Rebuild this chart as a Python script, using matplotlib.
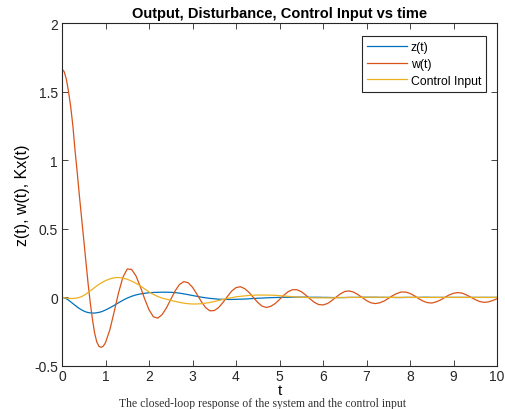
import matplotlib
matplotlib.use("Agg")
import matplotlib.pyplot as plt

plt.rcParams["font.family"] = ["Liberation Sans", "DejaVu Sans"]

# sample times (finer at the start where w(t) falls fast)
t = [0.0, 0.05, 0.1, 0.15, 0.2, 0.25, 0.3, 0.35, 0.4, 0.45, 0.5, 0.55, 0.6, 0.65,
     0.7, 0.75, 0.8, 0.85, 0.9, 0.95,
     1.0, 1.1, 1.2, 1.3, 1.4, 1.5, 1.6, 1.7, 1.8, 1.9,
     2.0, 2.1, 2.2, 2.3, 2.4, 2.5, 2.6, 2.7, 2.8, 2.9,
     3.0, 3.1, 3.2, 3.3, 3.4, 3.5, 3.6, 3.7, 3.8, 3.9,
     4.0, 4.1, 4.2, 4.3, 4.4, 4.5, 4.6, 4.7, 4.8, 4.9,
     5.0, 5.1, 5.2, 5.3, 5.4, 5.5, 5.6, 5.7, 5.8, 5.9,
     6.0, 6.1, 6.2, 6.3, 6.4, 6.5, 6.6, 6.7, 6.8, 6.9,
     7.0, 7.1, 7.2, 7.3, 7.4, 7.5, 7.6, 7.7, 7.8, 7.9,
     8.0, 8.1, 8.2, 8.3, 8.4, 8.5, 8.6, 8.7, 8.8, 8.9,
     9.0, 9.1, 9.2, 9.3, 9.4, 9.5, 9.6, 9.7, 9.8, 9.9, 10.0]

z = [0.0, -0.003, -0.010, -0.020, -0.032, -0.045, -0.058, -0.070, -0.081, -0.091,
     -0.099, -0.106, -0.110, -0.113, -0.114, -0.114, -0.112, -0.109, -0.105, -0.099,
     -0.092, -0.076, -0.058, -0.039, -0.021, -0.005, 0.008, 0.018, 0.025, 0.030,
     0.034, 0.036, 0.037, 0.038, 0.038, 0.037, 0.035, 0.031, 0.026, 0.020,
     0.014, 0.008, 0.002, -0.003, -0.007, -0.010, -0.013, -0.014, -0.015, -0.015,
     -0.014, -0.013, -0.012, -0.010, -0.008, -0.006, -0.005, -0.003, -0.002, -0.001,
     0.000, 0.001, 0.001, 0.002, 0.002, 0.002, 0.002, 0.001, 0.001, 0.001,
     0.000, 0.000, -0.001, -0.001, -0.001, -0.001, 0.000, 0.000, 0.000, 0.001,
     0.001, 0.001, 0.001, 0.000, 0.000, 0.000, 0.000, -0.001, -0.001, 0.000,
     0.000, 0.000, 0.000, 0.001, 0.001, 0.000, 0.000, 0.000, 0.000, 0.000,
     0.000, 0.000, 0.000, 0.000, 0.000, 0.000, 0.000, 0.000, 0.000, 0.000, 0.000]

w = [1.665, 1.645, 1.59, 1.50, 1.39, 1.25, 1.07, 0.91, 0.74, 0.58,
     0.42, 0.26, 0.10, -0.04, -0.16, -0.26, -0.325, -0.357, -0.364, -0.355,
     -0.330, -0.236, -0.104, 0.034, 0.147, 0.207, 0.204, 0.157, 0.079, -0.011,
     -0.090, -0.141, -0.151, -0.126, -0.077, -0.015, 0.047, 0.094, 0.115, 0.107,
     0.074, 0.024, -0.029, -0.074, -0.098, -0.096, -0.074, -0.037, 0.006, 0.046,
     0.071, 0.078, 0.064, 0.036, -0.001, -0.037, -0.064, -0.073, -0.065, -0.045,
     -0.015, 0.016, 0.042, 0.056, 0.056, 0.042, 0.018, -0.010, -0.036, -0.052,
     -0.055, -0.045, -0.024, 0.002, 0.026, 0.043, 0.047, 0.039, 0.021, -0.001,
     -0.023, -0.039, -0.045, -0.040, -0.027, -0.008, 0.013, 0.029, 0.039, 0.039,
     0.029, 0.012, -0.009, -0.027, -0.038, -0.041, -0.033, -0.019, 0.000, 0.018,
     0.030, 0.035, 0.031, 0.018, 0.001, -0.016, -0.030, -0.036, -0.033, -0.023, -0.010]

u = [0.0, -0.002, -0.005, -0.007, -0.008, -0.008, -0.006, -0.004, 0.000, 0.006,
     0.014, 0.024, 0.036, 0.048, 0.060, 0.072, 0.084, 0.095, 0.105, 0.114,
     0.122, 0.135, 0.143, 0.145, 0.141, 0.132, 0.119, 0.103, 0.084, 0.062,
     0.040, 0.022, 0.007, -0.005, -0.013, -0.021, -0.029, -0.036, -0.042, -0.046,
     -0.048, -0.048, -0.046, -0.042, -0.037, -0.030, -0.023, -0.015, -0.008, -0.002,
     0.004, 0.008, 0.011, 0.014, 0.016, 0.017, 0.017, 0.017, 0.016, 0.015,
     0.013, 0.010, 0.008, 0.005, 0.003, 0.001, -0.001, -0.002, -0.003, -0.003,
     -0.003, -0.003, -0.003, -0.002, -0.002, -0.001, 0.000, 0.000, 0.000, 0.000,
     0.001, 0.001, 0.001, 0.001, 0.001, 0.000, 0.000, 0.000, 0.000, 0.000,
     0.000, 0.000, 0.000, 0.000, 0.000, 0.000, 0.000, 0.000, 0.000, 0.000,
     0.000, 0.000, 0.000, 0.000, 0.000, 0.000, 0.000, 0.000, 0.000, 0.000, 0.000]

labels = ["z(t)", "w(t)", "Control Input"]
colors = ["#0072BD", "#D95319", "#EDB120"]

fig = plt.figure(figsize=(5.05, 4.10), dpi=100)
ax = fig.add_axes([62 / 505, 1 - 367 / 410, 435 / 505, 343 / 410])

for ys, lab, c in zip([z, w, u], labels, colors):
    ax.plot(t, ys, color=c, lw=0.9, label=lab)

ax.set_xlim(0, 10)
ax.set_ylim(-0.5, 2)
ax.set_xticks(range(0, 11))
ax.set_yticks([-0.5, 0, 0.5, 1, 1.5, 2])
ax.set_yticklabels(["-0.5", "0", "0.5", "1", "1.5", "2"])
ax.tick_params(direction="in", length=4, width=0.6, top=True, right=True,
               labelsize=10, colors="#262626", pad=3)
ax.tick_params(axis="x", pad=2)
for sp in ax.spines.values():
    sp.set_linewidth(0.8)
    sp.set_color("#262626")

ax.set_title("Output, Disturbance, Control Input vs time", fontsize=10.5,
             fontweight="bold", pad=4)
ax.set_xlabel("t", fontsize=11, labelpad=0)
ax.set_ylabel("z(t), w(t), Kx(t)", fontsize=11.5, labelpad=3)

leg = ax.legend(loc="upper right", bbox_to_anchor=(0.9747, 0.962), fontsize=8.8,
                handlelength=3.3, handletextpad=0.3, borderpad=0.4,
                labelspacing=0.4, borderaxespad=0, fancybox=False, framealpha=1)
leg.get_frame().set_edgecolor("#262626")
leg.get_frame().set_linewidth(0.8)

# caption line from the document underneath (cut at the bottom in the source)
fig.text(0.52, 0.0, "The closed-loop response of the system and the control input",
         fontsize=8.5, family="Liberation Serif", color="#333333", ha="center", va="bottom")

fig.savefig("out.png", dpi=100)
